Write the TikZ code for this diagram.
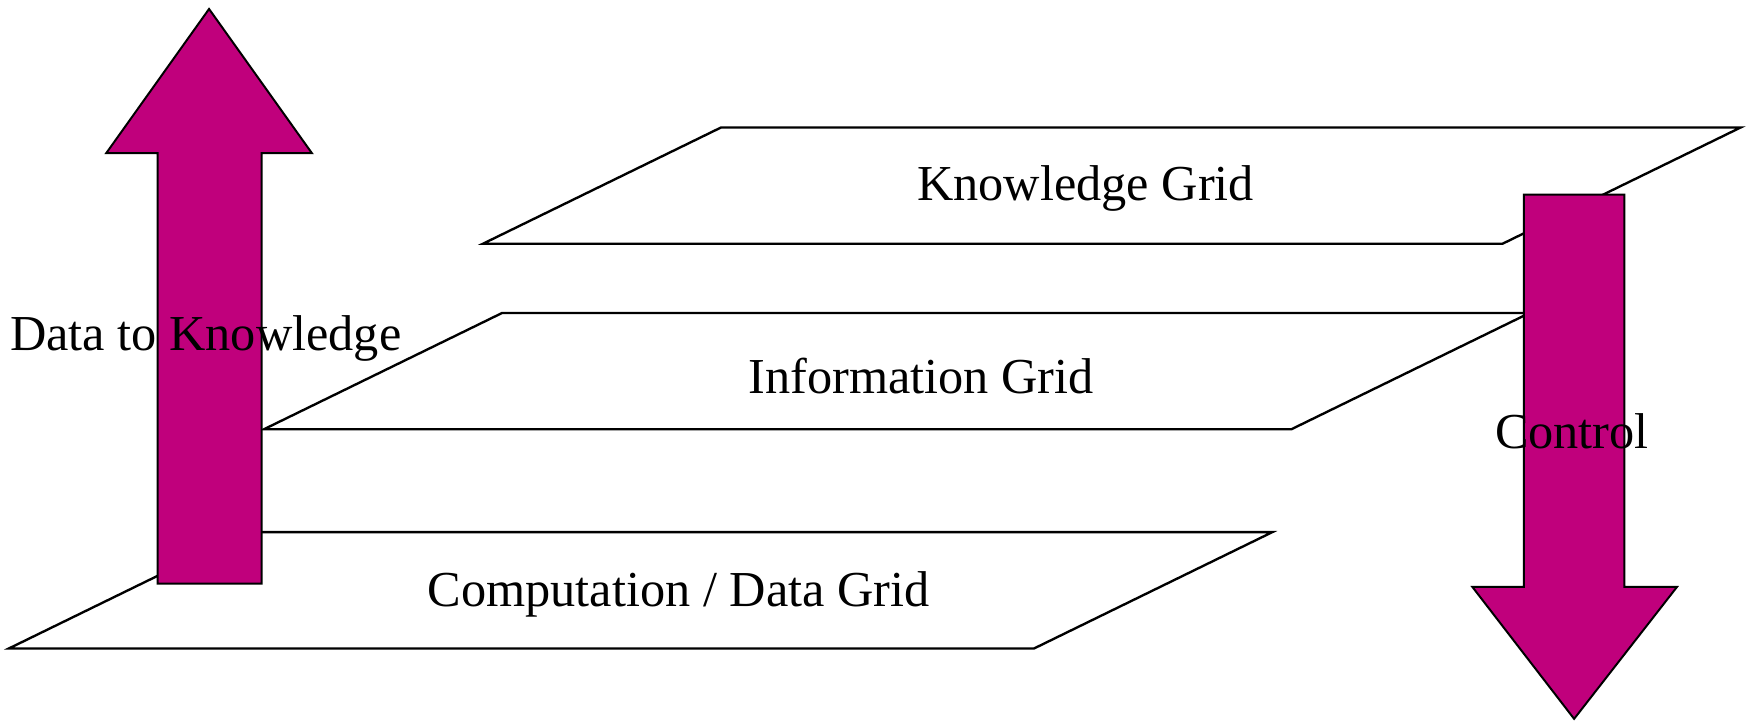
\documentclass[tikz,border=0pt]{standalone}
\usepackage{fontspec}
\setmainfont{Liberation Serif}
\definecolor{arrowred}{RGB}{192,0,124}
\tikzset{
	plate/.style={line width=0.6pt},
	bigarrow/.style={fill=arrowred,draw=black,line width=0.5pt},
	label/.style={font=\fontsize{12.8}{15}\selectfont,inner sep=0pt}
}
\begin{document}
\begin{tikzpicture}[x=0.01cm,y=-0.01cm]
	\useasboundingbox (0,0) rectangle (1568,645);

	% plates: left x, bottom y, width
	\foreach \xl/\yb/\w in {432/218/912, 236/384/919, 8/580/917} {
	     \draw[plate] (\xl,\yb) -- ++(213,-104) -- ++(\w,0) -- ++(-213,104) -- cycle;
	}

	% arrows
	\draw[bigarrow] (141,522) -- (141,137) -- (95,137) -- (187,8) -- (279,137) -- (234,137) -- (234,522) -- cycle;
	\draw[bigarrow] (1363,174) -- (1363,525) -- (1317,525) -- (1408,643) -- (1500,525) -- (1453,525) -- (1453,174) -- cycle;

	\node[label] (knowgrid) at (971,169) {Knowledge Grid};
	\node[label] (infogrid) at (824,336) {Information Grid};
	\node[label] (compgrid) at (607,532) {Computation / Data Grid};
	\node[label] (datatoknow) at (184,303) {Data to Knowledge};
	\node[label] (control) at (1406,386) {Control};
\end{tikzpicture}
\end{document}
